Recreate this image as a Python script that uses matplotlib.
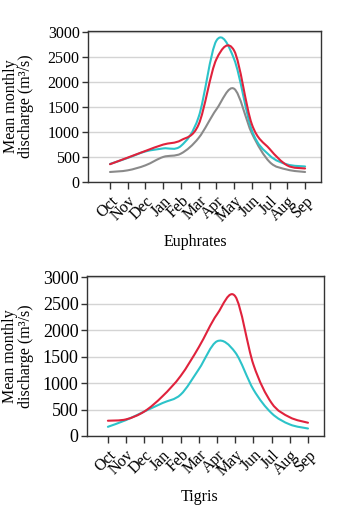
import numpy as np
import matplotlib
matplotlib.use("Agg")
import matplotlib.pyplot as plt
from matplotlib.path import Path
from matplotlib.patches import PathPatch


# ===================================================
# DATA
# ===================================================

MONTHS = ["Oct", "Nov", "Dec", "Jan", "Feb", "Mar",
          "Apr", "May", "Jun", "Jul", "Aug", "Sep"]

# Euphrates, mean monthly discharge (m3/s)
EUPH_CYAN = [360, 480, 610, 670, 720, 1300, 2820, 2450, 1030, 530, 350, 310]
EUPH_RED = [355, 487, 620, 747, 833, 1150, 2450, 2620, 1150, 660, 330, 270]
EUPH_GREY = [200, 233, 333, 500, 567, 880, 1450, 1860, 970, 400, 247, 200]

# Tigris
TIG_CYAN = [173, 301, 462, 622, 782, 1263, 1790, 1580, 878, 430, 218, 141]
TIG_RED = [288, 314, 462, 750, 1135, 1680, 2300, 2640, 1350, 622, 353, 250]

Y_TICKS = [0, 500, 1000, 1500, 2000, 2500, 3000]

CYAN = "#2cc3c9"
RED = "#e0223c"
GREY = "#8a8a8a"

FONT = "Liberation Serif"
FS = 11.5


# ===================================================
# HELPERS
# ===================================================

def smooth_path(xs, ys):
    """Catmull-Rom curve through the points, as cubic Bezier segments."""
    pts = np.column_stack([xs, ys]).astype(float)
    ext = np.vstack([pts[0], pts, pts[-1]])
    verts = [tuple(pts[0])]
    codes = [Path.MOVETO]
    for i in range(len(pts) - 1):
        p0, p1, p2, p3 = ext[i], ext[i + 1], ext[i + 2], ext[i + 3]
        c1 = p1 + (p2 - p0) / 6.0
        c2 = p2 - (p3 - p1) / 6.0
        verts += [tuple(c1), tuple(c2), tuple(p2)]
        codes += [Path.CURVE4] * 3
    return Path(verts, codes)


def draw_curve(ax, values, color):
    xs = np.arange(len(values))
    patch = PathPatch(smooth_path(xs, values), facecolor="none",
                      edgecolor=color, lw=1.5, capstyle="round",
                      joinstyle="round", zorder=3)
    ax.add_patch(patch)


def style_axes(ax, xlim, ytick_fs, label_x):
    ax.set_xlim(*xlim)
    ax.set_ylim(0, 3020)
    ax.set_yticks(Y_TICKS)
    ax.set_yticklabels([str(v) for v in Y_TICKS], fontsize=ytick_fs,
                       family=FONT)
    ax.set_xticks(np.arange(len(MONTHS)))
    ax.set_xticklabels(MONTHS, fontsize=FS, family=FONT, rotation=45,
                       ha="right", va="top", rotation_mode="anchor")
    ax.tick_params(axis="x", direction="out", length=5, width=1,
                   color="#333333", pad=3)
    ax.tick_params(axis="y", direction="out", length=4, width=1,
                   color="#333333", pad=2)
    ax.grid(axis="y", color="#d4d4d4", lw=1.0, zorder=0)
    ax.set_axisbelow(True)
    for sp in ax.spines.values():
        sp.set_color("#333333")
        sp.set_linewidth(1.0)
    ax.set_ylabel("Mean monthly\ndischarge (m\u00b3/s)", fontsize=FS,
                  family=FONT, linespacing=0.95)
    ax.yaxis.set_label_coords(label_x, 0.5)


# ===================================================
# FIGURE
# ===================================================

fig = plt.figure(figsize=(3.43, 5.19), dpi=100)

ax1 = fig.add_axes([0.2566, 0.6493, 0.6794, 0.2917])
style_axes(ax1, (-1.24, 11.9), FS, -0.232)
draw_curve(ax1, EUPH_GREY, GREY)
draw_curve(ax1, EUPH_CYAN, CYAN)
draw_curve(ax1, EUPH_RED, RED)
fig.text(195 / 343, 1 - 242 / 519, "Euphrates", fontsize=FS, family=FONT,
         ha="center", va="center")

ax2 = fig.add_axes([0.2536, 0.16, 0.691, 0.3078])
style_axes(ax2, (-1.15, 11.88), 13, -0.224)
draw_curve(ax2, TIG_CYAN, CYAN)
draw_curve(ax2, TIG_RED, RED)
fig.text(200 / 343, 1 - 497 / 519, "Tigris", fontsize=FS, family=FONT,
         ha="center", va="center")

fig.savefig("out.png", dpi=100)
